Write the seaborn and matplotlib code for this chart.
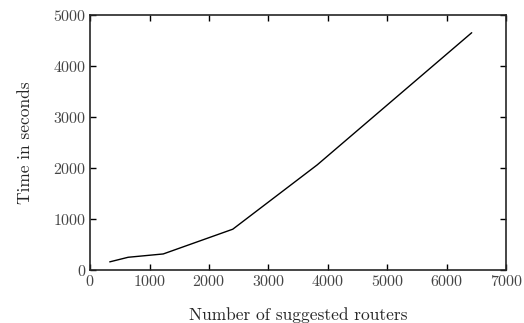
import matplotlib
matplotlib.use("Agg")
import matplotlib.pyplot as plt
import seaborn as sns
import pandas as pd

# data
routers = [330, 640, 1230, 2400, 3820, 6420]
seconds = [160, 250, 315, 800, 2060, 4650]

sns.set_style("ticks")
plt.rcParams["font.family"] = ["cmr10", "DejaVu Serif"]
plt.rcParams["axes.formatter.use_mathtext"] = True
plt.rcParams["mathtext.fontset"] = "cm"

df = pd.DataFrame({"routers": routers, "seconds": seconds})

fig, ax = plt.subplots(figsize=(5.24, 3.23), dpi=100)
sns.lineplot(data=df, x="routers", y="seconds", color="black", linewidth=1.0, ax=ax)

ax.set_xlim(0, 7000)
ax.set_ylim(0, 5000)
ax.set_xticks(range(0, 7001, 1000))
ax.set_yticks(range(0, 5001, 1000))
ax.tick_params(direction="in", top=True, right=True, length=4, width=1,
               labelsize=11.5, colors="black", labelcolor="#444444", pad=3)
for s in ax.spines.values():
    s.set_linewidth(1.2)
    s.set_visible(True)

ax.set_xlabel("Number of suggested routers", fontsize=12.5, labelpad=13)
ax.set_ylabel("Time in seconds", fontsize=12.5, labelpad=14)

fig.subplots_adjust(left=0.172, right=0.966, top=0.954, bottom=0.164)
fig.savefig("out.png", dpi=100)
